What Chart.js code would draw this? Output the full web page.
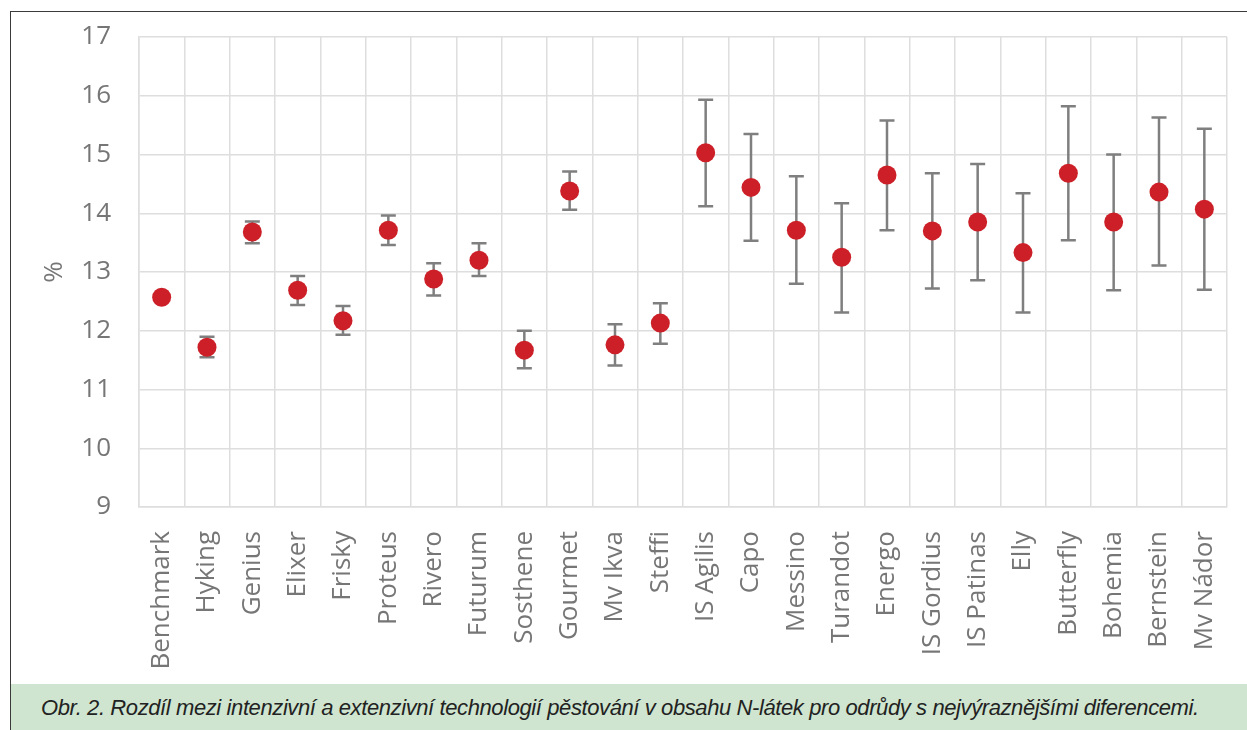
<!DOCTYPE html>
<html lang="cs">
<head>
<meta charset="utf-8">
<title>N-látky – intenzivní vs. extenzivní technologie</title>
<script src="https://cdn.jsdelivr.net/npm/chart.js@4/dist/chart.umd.min.js"></script>
<style>
  html, body {
    margin: 0;
    padding: 0;
    background: #fff;
  }
  #page {
    position: relative;
    width: 1247px;
    height: 730px;
    overflow: hidden;
  }
  #frame {
    position: absolute;
    left: 10px;
    top: 11px;
    width: 1240px;
    height: 730px;
    border-left: 1.5px solid #3a3a3a;
    border-top: 1.5px solid #3a3a3a;
    pointer-events: none;
  }
  #chart {
    position: absolute;
    left: 0;
    top: 0;
  }
  #caption {
    position: absolute;
    left: 11px;
    top: 684px;
    width: 1236px;
    height: 46px;
    background: #cfe5cf;
    font-family: "Liberation Sans", Arial, sans-serif;
    font-style: italic;
    font-size: 22px;
    letter-spacing: -0.4px;
    color: #222;
    line-height: 46px;
    padding-left: 30px;
    padding-top: 1px;
    box-sizing: border-box;
    white-space: nowrap;
  }
</style>
</head>
<body>
<div id="page">
  <canvas id="chart" width="1247" height="684"></canvas>
  <div id="frame"></div>
  <div id="caption">Obr. 2. Rozdíl mezi intenzivní a extenzivní technologií pěstování v obsahu N-látek pro odrůdy s nejvýraznějšími diferencemi.</div>
</div>

<script>
// odrůdy
const varieties = [
  "Benchmark", "Hyking", "Genius", "Elixer", "Frisky", "Proteus", "Rivero", "Futurum",
  "Sosthene", "Gourmet", "Mv Ikva", "Steffi", "IS Agilis", "Capo", "Messino", "Turandot",
  "Energo", "IS Gordius", "IS Patinas", "Elly", "Butterfly", "Bohemia", "Bernstein", "Mv Nádor"
];

// průměrný obsah N-látek (%)
const nContent = [
  12.57, 11.72, 13.68, 12.69, 12.17, 13.71, 12.88, 13.20,
  11.67, 14.38, 11.76, 12.13, 15.03, 14.44, 13.71, 13.25,
  14.65, 13.70, 13.85, 13.33, 14.68, 13.85, 14.36, 14.07
];

// horní a dolní mez chybových úseček (Benchmark je nemá)
const errHigh = [
  null, 11.90, 13.86, 12.93, 12.42, 13.96, 13.15, 13.49,
  12.00, 14.71, 12.11, 12.47, 15.93, 15.35, 14.63, 14.17,
  15.58, 14.68, 14.84, 14.34, 15.82, 15.00, 15.63, 15.44
];
const errLow = [
  null, 11.55, 13.49, 12.44, 11.93, 13.46, 12.60, 12.93,
  11.36, 14.06, 11.41, 11.78, 14.12, 13.53, 12.80, 12.31,
  13.71, 12.72, 12.86, 12.31, 13.54, 12.69, 13.11, 12.70
];

// osa y
const yMin = 9;
const yMax = 17;
const yStep = 1;

const axisGrey = "#767676";
const gridGrey = "#dedede";

// chybové úsečky se kreslí pod body
const errorBarsPlugin = {
  id: "errorBars",
  beforeDatasetsDraw(chart) {
    const { ctx, scales: { x, y } } = chart;
    const cap = 7.5;
    ctx.save();
    ctx.strokeStyle = "#7f7f7f";
    ctx.lineWidth = 2.5;
    varieties.forEach((name, i) => {
      if (errHigh[i] == null || errLow[i] == null) return;
      const px = x.getPixelForValue(i);
      const top = y.getPixelForValue(errHigh[i]);
      const bottom = y.getPixelForValue(errLow[i]);
      ctx.beginPath();
      ctx.moveTo(px, top);
      ctx.lineTo(px, bottom);
      ctx.moveTo(px - cap, top);
      ctx.lineTo(px + cap, top);
      ctx.moveTo(px - cap, bottom);
      ctx.lineTo(px + cap, bottom);
      ctx.stroke();
    });
    ctx.restore();
  }
};

function renderChart() {
  const ctx = document.getElementById("chart").getContext("2d");

  new Chart(ctx, {
    type: "line",
    data: {
      labels: varieties,
      datasets: [{
        label: "N-látky",
        data: nContent,
        showLine: false,
        pointRadius: 9.5,
        pointHoverRadius: 9.5,
        pointBackgroundColor: "#cc1f27",
        pointBorderWidth: 0
      }]
    },
    options: {
      responsive: false,
      animation: false,
      layout: {
        padding: { top: 37, right: 20, bottom: 0, left: 0 }
      },
      plugins: {
        legend: { display: false },
        tooltip: { enabled: false }
      },
      scales: {
        x: {
          offset: true,
          grid: {
            offset: true,
            color: gridGrey,
            lineWidth: 1.5,
            drawTicks: false
          },
          border: { color: gridGrey, width: 1.5 },
          ticks: {
            autoSkip: false,
            minRotation: 90,
            maxRotation: 90,
            padding: 24,
            color: axisGrey,
            font: { family: "'Open Sans', sans-serif", size: 26 }
          },
          // pevná výška osy, bez přesahu popisků do stran
          afterFit: (scale) => {
            scale.height = 177;
            scale.paddingLeft = 0;
            scale.paddingRight = 0;
          }
        },
        y: {
          min: yMin,
          max: yMax,
          grid: {
            color: gridGrey,
            lineWidth: 1.5,
            drawTicks: false
          },
          border: { color: gridGrey, width: 1.5 },
          ticks: {
            stepSize: yStep,
            padding: 28,
            color: axisGrey,
            font: { family: "'Open Sans', sans-serif", size: 26 }
          },
          title: {
            display: true,
            text: "%",
            color: axisGrey,
            padding: { top: 39, bottom: 0 },
            font: { family: "'Open Sans', sans-serif", size: 26 }
          },
          afterFit: (scale) => {
            scale.width = 139;
            scale.paddingTop = 0;
            scale.paddingBottom = 0;
          }
        }
      }
    },
    plugins: [errorBarsPlugin]
  });
}

renderChart();
</script>
</body>
</html>
